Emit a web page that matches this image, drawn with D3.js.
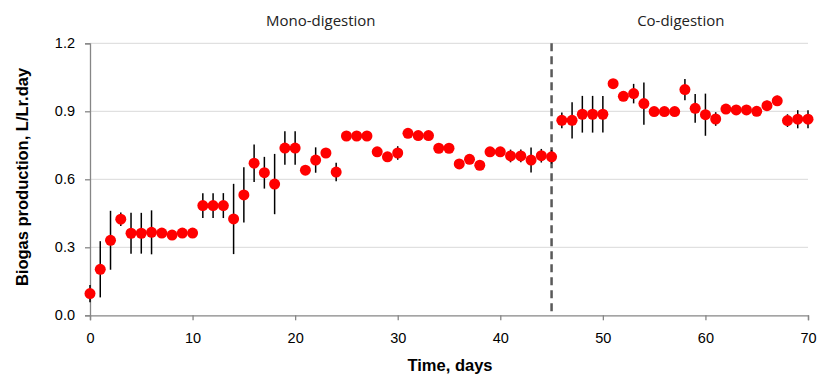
<!DOCTYPE html>
<html lang="en">
<head>
  <meta charset="utf-8" />
  <title>Biogas production</title>
  <script src="https://cdn.jsdelivr.net/npm/d3@7"></script>
  <style>
    body { margin: 0; background: #fff; }
    .tick text { font-family: "Liberation Sans", Arial, sans-serif; font-size: 14.5px; fill: #000; }
  </style>
</head>
<body>
  <script>
    // days 0..70
    var days = d3.range(0, 71);
    var production = [
      0.096, 0.203, 0.331, 0.424, 0.362, 0.362, 0.366, 0.363, 0.354, 0.363,
      0.363, 0.484, 0.484, 0.484, 0.425, 0.531, 0.671, 0.629, 0.579, 0.738,
      0.738, 0.640, 0.685, 0.716, 0.632, 0.791, 0.791, 0.791, 0.721, 0.699,
      0.716, 0.803, 0.793, 0.793, 0.737, 0.737, 0.668, 0.688, 0.662, 0.721,
      0.721, 0.703, 0.703, 0.685, 0.704, 0.699, 0.860, 0.860, 0.887, 0.887,
      0.887, 1.022, 0.966, 0.978, 0.934, 0.899, 0.899, 0.899, 0.996, 0.913,
      0.885, 0.866, 0.910, 0.906, 0.906, 0.900, 0.925, 0.946, 0.859, 0.865,
      0.865
    ];
    var errors = [
      0.038, 0.124, 0.130, 0.030, 0.090, 0.090, 0.097, 0.000, 0.000, 0.000,
      0.020, 0.055, 0.055, 0.055, 0.155, 0.122, 0.083, 0.070, 0.133, 0.074,
      0.074, 0.000, 0.056, 0.000, 0.041, 0.000, 0.000, 0.000, 0.000, 0.020,
      0.030, 0.000, 0.000, 0.000, 0.000, 0.000, 0.015, 0.000, 0.000, 0.000,
      0.000, 0.028, 0.028, 0.055, 0.030, 0.030, 0.035, 0.080, 0.081, 0.081,
      0.081, 0.000, 0.000, 0.043, 0.093, 0.000, 0.000, 0.000, 0.047, 0.063,
      0.093, 0.030, 0.000, 0.000, 0.000, 0.000, 0.022, 0.023, 0.028, 0.040,
      0.040
    ];
    var xTicks = [0, 10, 20, 30, 40, 50, 60, 70];
    var yTicks = [0, 0.3, 0.6, 0.9, 1.2];
    var switchDay = 45;
    var phases = [
      { label: "Mono-digestion", day: 22.5 },
      { label: "Co-digestion", day: 57.6 }
    ];

    var width = 820, height = 378;
    var mLeft = 90, mRight = 808, mTop = 43.3, mBottom = 315.3;

    var svg = d3.select("body").append("svg")
      .attr("width", width)
      .attr("height", height);

    var x = d3.scaleLinear().domain([0, 70]).range([mLeft, mRight]);
    var y = d3.scaleLinear().domain([0, 1.2]).range([mBottom, mTop]);

    // gridlines
    svg.append("g")
      .selectAll("line")
      .data(yTicks.slice(1))
      .enter()
      .append("line")
      .attr("x1", mLeft)
      .attr("x2", mRight)
      .attr("y1", function (d) { return y(d); })
      .attr("y2", function (d) { return y(d); })
      .attr("stroke", "#d9d9d9")
      .attr("stroke-width", 1);

    // axes
    var yAxis = svg.append("g")
      .attr("transform", "translate(" + mLeft + ",0)")
      .call(d3.axisLeft(y).tickValues(yTicks).tickFormat(d3.format(".1f")).tickSizeOuter(0).tickSize(5).tickPadding(10));
    var xAxis = svg.append("g")
      .attr("transform", "translate(0," + mBottom + ")")
      .call(d3.axisBottom(x).tickValues(xTicks).tickSizeOuter(0).tickSize(5).tickPadding(12));
    [xAxis, yAxis].forEach(function (a) {
      a.select(".domain").attr("stroke", "#868686").attr("stroke-width", 1.3);
      a.selectAll(".tick line").attr("stroke", "#868686").attr("stroke-width", 1.3);
    });

    // phase switch
    svg.append("line")
      .attr("x1", x(switchDay))
      .attr("x2", x(switchDay))
      .attr("y1", y(1.2))
      .attr("y2", y(0))
      .attr("stroke", "#595959")
      .attr("stroke-width", 2.5)
      .attr("stroke-dasharray", "8,5");

    svg.append("g")
      .selectAll("text")
      .data(phases)
      .enter()
      .append("text")
      .attr("x", function (d) { return x(d.day); })
      .attr("y", 26)
      .attr("text-anchor", "middle")
      .attr("font-family", "'Open Sans', 'Liberation Sans', sans-serif")
      .attr("font-size", 15)
      .attr("fill", "#222")
      .text(function (d) { return d.label; });

    // error bars
    svg.append("g")
      .selectAll("line")
      .data(days.filter(function (d) { return errors[d] > 0; }))
      .enter()
      .append("line")
      .attr("x1", function (d) { return x(d); })
      .attr("x2", function (d) { return x(d); })
      .attr("y1", function (d) { return y(production[d] + errors[d]); })
      .attr("y2", function (d) { return y(production[d] - errors[d]); })
      .attr("stroke", "#000")
      .attr("stroke-width", 1.5);

    // points
    svg.append("g")
      .selectAll("circle")
      .data(days)
      .enter()
      .append("circle")
      .attr("cx", function (d) { return x(d); })
      .attr("cy", function (d) { return y(production[d]); })
      .attr("r", 5.5)
      .attr("fill", "#ff0000");

    // axis titles
    svg.append("text")
      .attr("transform", "translate(28," + 177 + ") rotate(-90)")
      .attr("text-anchor", "middle")
      .attr("font-family", "'Liberation Sans', Arial, sans-serif")
      .attr("font-weight", "bold")
      .attr("font-size", 16.5)
      .text("Biogas production, L/Lr.day");

    svg.append("text")
      .attr("x", 450)
      .attr("y", 371)
      .attr("text-anchor", "middle")
      .attr("font-family", "'Liberation Sans', Arial, sans-serif")
      .attr("font-weight", "bold")
      .attr("font-size", 16.5)
      .text("Time, days");
  </script>
</body>
</html>
